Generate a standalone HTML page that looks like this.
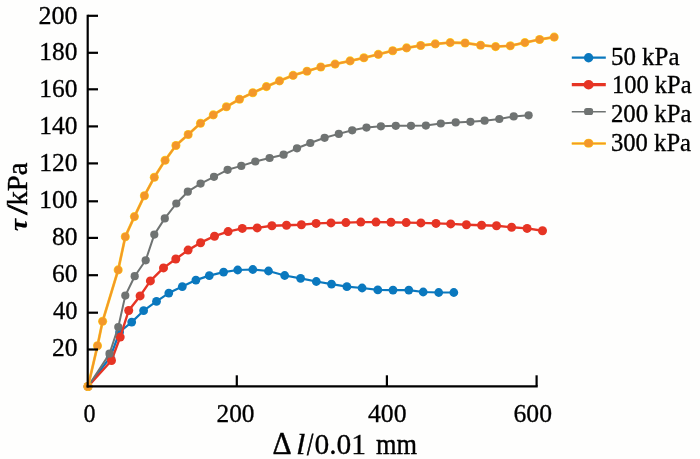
<!DOCTYPE html>
<html><head><meta charset="utf-8"><title>chart</title>
<style>html,body{margin:0;padding:0;background:#fefefd}svg{display:block}</style></head>
<body>
<svg width="700" height="459" viewBox="0 0 700 459">
<rect width="700" height="459" fill="#fefefd"/>
<text x="38.46" y="23.5" font-family="'Liberation Serif', serif" font-size="25.5px" fill="#000" stroke="#000" stroke-width="0.3"  textLength="39.04" lengthAdjust="spacingAndGlyphs">200</text>
<text x="39.37" y="60.45" font-family="'Liberation Serif', serif" font-size="25.5px" fill="#000" stroke="#000" stroke-width="0.3"  textLength="38.13" lengthAdjust="spacingAndGlyphs">180</text>
<text x="39.37" y="97.4" font-family="'Liberation Serif', serif" font-size="25.5px" fill="#000" stroke="#000" stroke-width="0.3"  textLength="38.13" lengthAdjust="spacingAndGlyphs">160</text>
<text x="39.37" y="134.35" font-family="'Liberation Serif', serif" font-size="25.5px" fill="#000" stroke="#000" stroke-width="0.3"  textLength="38.13" lengthAdjust="spacingAndGlyphs">140</text>
<text x="39.37" y="171.3" font-family="'Liberation Serif', serif" font-size="25.5px" fill="#000" stroke="#000" stroke-width="0.3"  textLength="38.13" lengthAdjust="spacingAndGlyphs">120</text>
<text x="39.37" y="208.25" font-family="'Liberation Serif', serif" font-size="25.5px" fill="#000" stroke="#000" stroke-width="0.3"  textLength="38.13" lengthAdjust="spacingAndGlyphs">100</text>
<text x="51.97" y="245.2" font-family="'Liberation Serif', serif" font-size="25.5px" fill="#000" stroke="#000" stroke-width="0.3"  textLength="25.54" lengthAdjust="spacingAndGlyphs">80</text>
<text x="51.97" y="282.15" font-family="'Liberation Serif', serif" font-size="25.5px" fill="#000" stroke="#000" stroke-width="0.3"  textLength="25.54" lengthAdjust="spacingAndGlyphs">60</text>
<text x="52.99" y="319.1" font-family="'Liberation Serif', serif" font-size="25.5px" fill="#000" stroke="#000" stroke-width="0.3"  textLength="24.52" lengthAdjust="spacingAndGlyphs">40</text>
<text x="51.97" y="356.05" font-family="'Liberation Serif', serif" font-size="25.5px" fill="#000" stroke="#000" stroke-width="0.3"  textLength="25.54" lengthAdjust="spacingAndGlyphs">20</text>
<text x="83.45" y="421.8" font-family="'Liberation Serif', serif" font-size="25.5px" fill="#000" stroke="#000" stroke-width="0.3"  textLength="12.05" lengthAdjust="spacingAndGlyphs">0</text>
<text x="216.47" y="421.8" font-family="'Liberation Serif', serif" font-size="25.5px" fill="#000" stroke="#000" stroke-width="0.3"  textLength="38.07" lengthAdjust="spacingAndGlyphs">200</text>
<text x="367.98" y="421.8" font-family="'Liberation Serif', serif" font-size="25.5px" fill="#000" stroke="#000" stroke-width="0.3"  textLength="38.54" lengthAdjust="spacingAndGlyphs">400</text>
<text x="513.48" y="421.8" font-family="'Liberation Serif', serif" font-size="25.5px" fill="#000" stroke="#000" stroke-width="0.3"  textLength="38.53" lengthAdjust="spacingAndGlyphs">600</text>
<text x="272.44" y="454.1" font-family="'Liberation Serif', serif" font-size="31.4px" fill="#000" stroke="#000" stroke-width="0.45"  textLength="19.12" lengthAdjust="spacingAndGlyphs">Δ</text>
<text x="295.90" y="454.2" font-family="'Liberation Serif', serif" font-size="29.6px" fill="#000" stroke="#000" stroke-width="0.3" font-style="italic" textLength="9.38" lengthAdjust="spacingAndGlyphs">l</text>
<text x="306.88" y="455.4" font-family="'Liberation Serif', serif" font-size="31.5px" fill="#000" stroke="#000" stroke-width="0.8"  textLength="6.29" lengthAdjust="spacingAndGlyphs">/</text>
<text x="314.47" y="454.3" font-family="'Liberation Serif', serif" font-size="30.3px" fill="#000" stroke="#000" stroke-width="0.3"  textLength="51.57" lengthAdjust="spacingAndGlyphs">0.01</text>
<text x="375.99" y="454.1" font-family="'Liberation Serif', serif" font-size="28.8px" fill="#000" stroke="#000" stroke-width="0.4"  textLength="41.01" lengthAdjust="spacingAndGlyphs">mm</text>
<g transform="translate(26.9,0) rotate(-90)"><text x="-230.97" y="0" font-family="'Liberation Serif', serif" font-size="25.8px" fill="#000" stroke="#000" stroke-width="0.22" font-style="italic" font-weight="bold" textLength="12.03" lengthAdjust="spacingAndGlyphs">τ</text></g>
<g transform="translate(26.9,0) rotate(-90)"><text x="-214.80" y="0" font-family="'Liberation Serif', serif" font-size="29.5px" fill="#000" stroke="#000" stroke-width="0.9"  textLength="10.03" lengthAdjust="spacingAndGlyphs">/</text></g>
<g transform="translate(26.9,0) rotate(-90)"><text x="-205.52" y="0" font-family="'Liberation Serif', serif" font-size="28.8px" fill="#000" stroke="#000" stroke-width="0.4"  textLength="43.04" lengthAdjust="spacingAndGlyphs">kPa</text></g>
<polyline points="88,386.5 110.3,357.2 119.6,332.0 131.7,322.1 143.6,310.7 156.5,301.4 168.8,293.1 182.3,286.6 195.9,280.1 209.3,275.6 223.6,272.1 237.7,270.0 252.8,269.5 268.5,271.0 284.7,275.5 300.6,278.3 316.3,281.5 331.5,284.1 346.9,286.7 362.1,288.0 377.8,289.9 393.0,290.1 408.8,290.1 423.2,292.0 438.7,292.5 453.8,292.5" fill="none" stroke="#0a78be" stroke-width="2.2" stroke-linejoin="round"/>
<circle cx="88" cy="386.5" r="4.4" fill="#0a78be"/><circle cx="110.3" cy="357.2" r="4.4" fill="#0a78be"/><circle cx="119.6" cy="332.0" r="4.4" fill="#0a78be"/><circle cx="131.7" cy="322.1" r="4.4" fill="#0a78be"/><circle cx="143.6" cy="310.7" r="4.4" fill="#0a78be"/><circle cx="156.5" cy="301.4" r="4.4" fill="#0a78be"/><circle cx="168.8" cy="293.1" r="4.4" fill="#0a78be"/><circle cx="182.3" cy="286.6" r="4.4" fill="#0a78be"/><circle cx="195.9" cy="280.1" r="4.4" fill="#0a78be"/><circle cx="209.3" cy="275.6" r="4.4" fill="#0a78be"/><circle cx="223.6" cy="272.1" r="4.4" fill="#0a78be"/><circle cx="237.7" cy="270.0" r="4.4" fill="#0a78be"/><circle cx="252.8" cy="269.5" r="4.4" fill="#0a78be"/><circle cx="268.5" cy="271.0" r="4.4" fill="#0a78be"/><circle cx="284.7" cy="275.5" r="4.4" fill="#0a78be"/><circle cx="300.6" cy="278.3" r="4.4" fill="#0a78be"/><circle cx="316.3" cy="281.5" r="4.4" fill="#0a78be"/><circle cx="331.5" cy="284.1" r="4.4" fill="#0a78be"/><circle cx="346.9" cy="286.7" r="4.4" fill="#0a78be"/><circle cx="362.1" cy="288.0" r="4.4" fill="#0a78be"/><circle cx="377.8" cy="289.9" r="4.4" fill="#0a78be"/><circle cx="393.0" cy="290.1" r="4.4" fill="#0a78be"/><circle cx="408.8" cy="290.1" r="4.4" fill="#0a78be"/><circle cx="423.2" cy="292.0" r="4.4" fill="#0a78be"/><circle cx="438.7" cy="292.5" r="4.4" fill="#0a78be"/><circle cx="453.8" cy="292.5" r="4.4" fill="#0a78be"/>

<polyline points="88,386.5 111.5,360.5 120.2,337.1 128.7,310.5 140.1,295.9 150.4,280.9 163.5,267.9 175.8,259.0 188.1,250.1 200.6,242.7 214.5,236.2 228.1,231.6 242.3,228.4 257.2,227.9 271.9,225.8 286.5,225.2 301.4,224.7 316.1,223.4 331.0,222.9 345.9,222.6 360.8,222.1 376.0,222.1 391.0,222.2 406.2,222.6 420.9,222.9 436.0,223.4 450.7,223.9 466.4,224.7 481.6,225.2 496.5,225.8 511.6,227.3 527.1,228.4 542.5,230.7" fill="none" stroke="#e63424" stroke-width="2.4" stroke-linejoin="round"/>
<circle cx="88" cy="386.5" r="4.5" fill="#e63424"/><circle cx="111.5" cy="360.5" r="4.5" fill="#e63424"/><circle cx="120.2" cy="337.1" r="4.5" fill="#e63424"/><circle cx="128.7" cy="310.5" r="4.5" fill="#e63424"/><circle cx="140.1" cy="295.9" r="4.5" fill="#e63424"/><circle cx="150.4" cy="280.9" r="4.5" fill="#e63424"/><circle cx="163.5" cy="267.9" r="4.5" fill="#e63424"/><circle cx="175.8" cy="259.0" r="4.5" fill="#e63424"/><circle cx="188.1" cy="250.1" r="4.5" fill="#e63424"/><circle cx="200.6" cy="242.7" r="4.5" fill="#e63424"/><circle cx="214.5" cy="236.2" r="4.5" fill="#e63424"/><circle cx="228.1" cy="231.6" r="4.5" fill="#e63424"/><circle cx="242.3" cy="228.4" r="4.5" fill="#e63424"/><circle cx="257.2" cy="227.9" r="4.5" fill="#e63424"/><circle cx="271.9" cy="225.8" r="4.5" fill="#e63424"/><circle cx="286.5" cy="225.2" r="4.5" fill="#e63424"/><circle cx="301.4" cy="224.7" r="4.5" fill="#e63424"/><circle cx="316.1" cy="223.4" r="4.5" fill="#e63424"/><circle cx="331.0" cy="222.9" r="4.5" fill="#e63424"/><circle cx="345.9" cy="222.6" r="4.5" fill="#e63424"/><circle cx="360.8" cy="222.1" r="4.5" fill="#e63424"/><circle cx="376.0" cy="222.1" r="4.5" fill="#e63424"/><circle cx="391.0" cy="222.2" r="4.5" fill="#e63424"/><circle cx="406.2" cy="222.6" r="4.5" fill="#e63424"/><circle cx="420.9" cy="222.9" r="4.5" fill="#e63424"/><circle cx="436.0" cy="223.4" r="4.5" fill="#e63424"/><circle cx="450.7" cy="223.9" r="4.5" fill="#e63424"/><circle cx="466.4" cy="224.7" r="4.5" fill="#e63424"/><circle cx="481.6" cy="225.2" r="4.5" fill="#e63424"/><circle cx="496.5" cy="225.8" r="4.5" fill="#e63424"/><circle cx="511.6" cy="227.3" r="4.5" fill="#e63424"/><circle cx="527.1" cy="228.4" r="4.5" fill="#e63424"/><circle cx="542.5" cy="230.7" r="4.5" fill="#e63424"/>

<polyline points="88,386.5 109.5,353.7 118.3,327.0 125.3,295.6 134.7,276.2 145.7,260.3 154.3,234.6 164.8,218.4 176.3,203.5 187.8,191.7 200.6,183.6 214.0,176.8 227.6,169.8 241.3,165.9 255.3,161.5 269.6,158.0 283.6,154.7 297.0,148.3 310.3,143.0 324.6,137.8 338.8,133.9 352.2,130.3 366.5,127.6 380.9,126.3 395.8,125.8 411.0,125.8 425.9,125.6 440.8,123.5 455.7,122.4 470.4,121.8 484.6,120.7 499.3,119.0 513.7,116.4 528.6,115.3" fill="none" stroke="#6f7372" stroke-width="2.0" stroke-linejoin="round"/>
<circle cx="88" cy="386.5" r="4.1" fill="#6f7372"/><circle cx="109.5" cy="353.7" r="4.1" fill="#6f7372"/><circle cx="118.3" cy="327.0" r="4.1" fill="#6f7372"/><circle cx="125.3" cy="295.6" r="4.1" fill="#6f7372"/><circle cx="134.7" cy="276.2" r="4.1" fill="#6f7372"/><circle cx="145.7" cy="260.3" r="4.1" fill="#6f7372"/><circle cx="154.3" cy="234.6" r="4.1" fill="#6f7372"/><circle cx="164.8" cy="218.4" r="4.1" fill="#6f7372"/><circle cx="176.3" cy="203.5" r="4.1" fill="#6f7372"/><circle cx="187.8" cy="191.7" r="4.1" fill="#6f7372"/><circle cx="200.6" cy="183.6" r="4.1" fill="#6f7372"/><circle cx="214.0" cy="176.8" r="4.1" fill="#6f7372"/><circle cx="227.6" cy="169.8" r="4.1" fill="#6f7372"/><circle cx="241.3" cy="165.9" r="4.1" fill="#6f7372"/><circle cx="255.3" cy="161.5" r="4.1" fill="#6f7372"/><circle cx="269.6" cy="158.0" r="4.1" fill="#6f7372"/><circle cx="283.6" cy="154.7" r="4.1" fill="#6f7372"/><circle cx="297.0" cy="148.3" r="4.1" fill="#6f7372"/><circle cx="310.3" cy="143.0" r="4.1" fill="#6f7372"/><circle cx="324.6" cy="137.8" r="4.1" fill="#6f7372"/><circle cx="338.8" cy="133.9" r="4.1" fill="#6f7372"/><circle cx="352.2" cy="130.3" r="4.1" fill="#6f7372"/><circle cx="366.5" cy="127.6" r="4.1" fill="#6f7372"/><circle cx="380.9" cy="126.3" r="4.1" fill="#6f7372"/><circle cx="395.8" cy="125.8" r="4.1" fill="#6f7372"/><circle cx="411.0" cy="125.8" r="4.1" fill="#6f7372"/><circle cx="425.9" cy="125.6" r="4.1" fill="#6f7372"/><circle cx="440.8" cy="123.5" r="4.1" fill="#6f7372"/><circle cx="455.7" cy="122.4" r="4.1" fill="#6f7372"/><circle cx="470.4" cy="121.8" r="4.1" fill="#6f7372"/><circle cx="484.6" cy="120.7" r="4.1" fill="#6f7372"/><circle cx="499.3" cy="119.0" r="4.1" fill="#6f7372"/><circle cx="513.7" cy="116.4" r="4.1" fill="#6f7372"/><circle cx="528.6" cy="115.3" r="4.1" fill="#6f7372"/>

<polyline points="88,386.5 97.5,345.7 102.6,321.3 118.2,269.9 125.3,236.7 134.4,216.6 144.4,195.7 154.3,177.3 165.1,160.3 175.9,145.5 188.2,134.5 200.5,123.3 213.3,114.9 226.4,106.8 239.5,99.2 252.8,92.7 266.4,86.6 279.5,80.9 293.1,75.4 307.0,71.2 320.8,67.0 335.1,64.1 350.1,60.9 363.9,57.8 378.3,54.4 392.7,50.7 406.6,47.9 420.7,45.5 435.3,43.9 450.2,42.6 465.1,43.0 480.6,45.2 495.6,46.6 510.3,45.8 524.9,42.6 539.6,39.5 554.2,37.1" fill="none" stroke="#ffd21f" stroke-width="2.8" stroke-linejoin="round"/>
<circle cx="88" cy="386.5" r="4.55" fill="#ffd21f"/><circle cx="97.5" cy="345.7" r="4.55" fill="#ffd21f"/><circle cx="102.6" cy="321.3" r="4.55" fill="#ffd21f"/><circle cx="118.2" cy="269.9" r="4.55" fill="#ffd21f"/><circle cx="125.3" cy="236.7" r="4.55" fill="#ffd21f"/><circle cx="134.4" cy="216.6" r="4.55" fill="#ffd21f"/><circle cx="144.4" cy="195.7" r="4.55" fill="#ffd21f"/><circle cx="154.3" cy="177.3" r="4.55" fill="#ffd21f"/><circle cx="165.1" cy="160.3" r="4.55" fill="#ffd21f"/><circle cx="175.9" cy="145.5" r="4.55" fill="#ffd21f"/><circle cx="188.2" cy="134.5" r="4.55" fill="#ffd21f"/><circle cx="200.5" cy="123.3" r="4.55" fill="#ffd21f"/><circle cx="213.3" cy="114.9" r="4.55" fill="#ffd21f"/><circle cx="226.4" cy="106.8" r="4.55" fill="#ffd21f"/><circle cx="239.5" cy="99.2" r="4.55" fill="#ffd21f"/><circle cx="252.8" cy="92.7" r="4.55" fill="#ffd21f"/><circle cx="266.4" cy="86.6" r="4.55" fill="#ffd21f"/><circle cx="279.5" cy="80.9" r="4.55" fill="#ffd21f"/><circle cx="293.1" cy="75.4" r="4.55" fill="#ffd21f"/><circle cx="307.0" cy="71.2" r="4.55" fill="#ffd21f"/><circle cx="320.8" cy="67.0" r="4.55" fill="#ffd21f"/><circle cx="335.1" cy="64.1" r="4.55" fill="#ffd21f"/><circle cx="350.1" cy="60.9" r="4.55" fill="#ffd21f"/><circle cx="363.9" cy="57.8" r="4.55" fill="#ffd21f"/><circle cx="378.3" cy="54.4" r="4.55" fill="#ffd21f"/><circle cx="392.7" cy="50.7" r="4.55" fill="#ffd21f"/><circle cx="406.6" cy="47.9" r="4.55" fill="#ffd21f"/><circle cx="420.7" cy="45.5" r="4.55" fill="#ffd21f"/><circle cx="435.3" cy="43.9" r="4.55" fill="#ffd21f"/><circle cx="450.2" cy="42.6" r="4.55" fill="#ffd21f"/><circle cx="465.1" cy="43.0" r="4.55" fill="#ffd21f"/><circle cx="480.6" cy="45.2" r="4.55" fill="#ffd21f"/><circle cx="495.6" cy="46.6" r="4.55" fill="#ffd21f"/><circle cx="510.3" cy="45.8" r="4.55" fill="#ffd21f"/><circle cx="524.9" cy="42.6" r="4.55" fill="#ffd21f"/><circle cx="539.6" cy="39.5" r="4.55" fill="#ffd21f"/><circle cx="554.2" cy="37.1" r="4.55" fill="#ffd21f"/>
<polyline points="88,386.5 97.5,345.7 102.6,321.3 118.2,269.9 125.3,236.7 134.4,216.6 144.4,195.7 154.3,177.3 165.1,160.3 175.9,145.5 188.2,134.5 200.5,123.3 213.3,114.9 226.4,106.8 239.5,99.2 252.8,92.7 266.4,86.6 279.5,80.9 293.1,75.4 307.0,71.2 320.8,67.0 335.1,64.1 350.1,60.9 363.9,57.8 378.3,54.4 392.7,50.7 406.6,47.9 420.7,45.5 435.3,43.9 450.2,42.6 465.1,43.0 480.6,45.2 495.6,46.6 510.3,45.8 524.9,42.6 539.6,39.5 554.2,37.1" fill="none" stroke="#f3972a" stroke-width="2.0" stroke-linejoin="round"/>
<circle cx="88" cy="386.5" r="3.9" fill="#f3972a"/><circle cx="97.5" cy="345.7" r="3.9" fill="#f3972a"/><circle cx="102.6" cy="321.3" r="3.9" fill="#f3972a"/><circle cx="118.2" cy="269.9" r="3.9" fill="#f3972a"/><circle cx="125.3" cy="236.7" r="3.9" fill="#f3972a"/><circle cx="134.4" cy="216.6" r="3.9" fill="#f3972a"/><circle cx="144.4" cy="195.7" r="3.9" fill="#f3972a"/><circle cx="154.3" cy="177.3" r="3.9" fill="#f3972a"/><circle cx="165.1" cy="160.3" r="3.9" fill="#f3972a"/><circle cx="175.9" cy="145.5" r="3.9" fill="#f3972a"/><circle cx="188.2" cy="134.5" r="3.9" fill="#f3972a"/><circle cx="200.5" cy="123.3" r="3.9" fill="#f3972a"/><circle cx="213.3" cy="114.9" r="3.9" fill="#f3972a"/><circle cx="226.4" cy="106.8" r="3.9" fill="#f3972a"/><circle cx="239.5" cy="99.2" r="3.9" fill="#f3972a"/><circle cx="252.8" cy="92.7" r="3.9" fill="#f3972a"/><circle cx="266.4" cy="86.6" r="3.9" fill="#f3972a"/><circle cx="279.5" cy="80.9" r="3.9" fill="#f3972a"/><circle cx="293.1" cy="75.4" r="3.9" fill="#f3972a"/><circle cx="307.0" cy="71.2" r="3.9" fill="#f3972a"/><circle cx="320.8" cy="67.0" r="3.9" fill="#f3972a"/><circle cx="335.1" cy="64.1" r="3.9" fill="#f3972a"/><circle cx="350.1" cy="60.9" r="3.9" fill="#f3972a"/><circle cx="363.9" cy="57.8" r="3.9" fill="#f3972a"/><circle cx="378.3" cy="54.4" r="3.9" fill="#f3972a"/><circle cx="392.7" cy="50.7" r="3.9" fill="#f3972a"/><circle cx="406.6" cy="47.9" r="3.9" fill="#f3972a"/><circle cx="420.7" cy="45.5" r="3.9" fill="#f3972a"/><circle cx="435.3" cy="43.9" r="3.9" fill="#f3972a"/><circle cx="450.2" cy="42.6" r="3.9" fill="#f3972a"/><circle cx="465.1" cy="43.0" r="3.9" fill="#f3972a"/><circle cx="480.6" cy="45.2" r="3.9" fill="#f3972a"/><circle cx="495.6" cy="46.6" r="3.9" fill="#f3972a"/><circle cx="510.3" cy="45.8" r="3.9" fill="#f3972a"/><circle cx="524.9" cy="42.6" r="3.9" fill="#f3972a"/><circle cx="539.6" cy="39.5" r="3.9" fill="#f3972a"/><circle cx="554.2" cy="37.1" r="3.9" fill="#f3972a"/>

<g stroke="#000" stroke-width="2.2" fill="none" stroke-linecap="butt"><path d="M87.7,14.7V387.4"/><path d="M86.6,386.3H537.7"/><path d="M87.7,15.8H98"/><path d="M87.7,52.8H98"/><path d="M87.7,89.3H98"/><path d="M87.7,126.4H98"/><path d="M87.7,163.4H98"/><path d="M87.7,201.3H98"/><path d="M87.7,237.9H98"/><path d="M87.7,275.2H98"/><path d="M87.7,312.7H98"/><path d="M87.7,349.5H98"/><path d="M236.8,386.3V375.3"/><path d="M386.9,386.3V375.3"/><path d="M536.6,386.3V375.3"/></g>
<path d="M571.8,57.7H605.8" stroke="#0a78be" stroke-width="2.2"/>
<circle cx="588.6" cy="57.7" r="4.7" fill="#0a78be"/>
<text x="610.99" y="64.6" font-family="'Liberation Serif', serif" font-size="25.4px" fill="#000" stroke="#000" stroke-width="0.34"  textLength="68.51" lengthAdjust="spacingAndGlyphs">50 kPa</text>
<path d="M571.8,84.7H605.8" stroke="#e63424" stroke-width="3.2"/>
<ellipse cx="588.6" cy="84.7" rx="5.1" ry="4.7" fill="#e63424"/>
<text x="611.97" y="92.9" font-family="'Liberation Serif', serif" font-size="25.4px" fill="#000" stroke="#000" stroke-width="0.34"  textLength="79.54" lengthAdjust="spacingAndGlyphs">100 kPa</text>
<path d="M571.8,111.7H605.8" stroke="#6f7372" stroke-width="1.6"/>
<rect x="584.1" y="108.1" width="9" height="7" rx="2.6" fill="#6f7372"/>
<text x="610.99" y="122.1" font-family="'Liberation Serif', serif" font-size="25.4px" fill="#000" stroke="#000" stroke-width="0.34"  textLength="80.51" lengthAdjust="spacingAndGlyphs">200 kPa</text>
<path d="M571.8,143.5H605.8" stroke="#ffd21f" stroke-width="2.6"/><ellipse cx="588.6" cy="143.2" rx="4.9" ry="4.5" fill="#ffd21f"/>
<path d="M571.8,143.5H605.8" stroke="#f3972a" stroke-width="1.7"/>
<ellipse cx="588.6" cy="143.2" rx="4.3" ry="3.9" fill="#f3972a"/>
<text x="610.99" y="151.4" font-family="'Liberation Serif', serif" font-size="25.4px" fill="#000" stroke="#000" stroke-width="0.34"  textLength="80.02" lengthAdjust="spacingAndGlyphs">300 kPa</text>
</svg>
</body></html>
